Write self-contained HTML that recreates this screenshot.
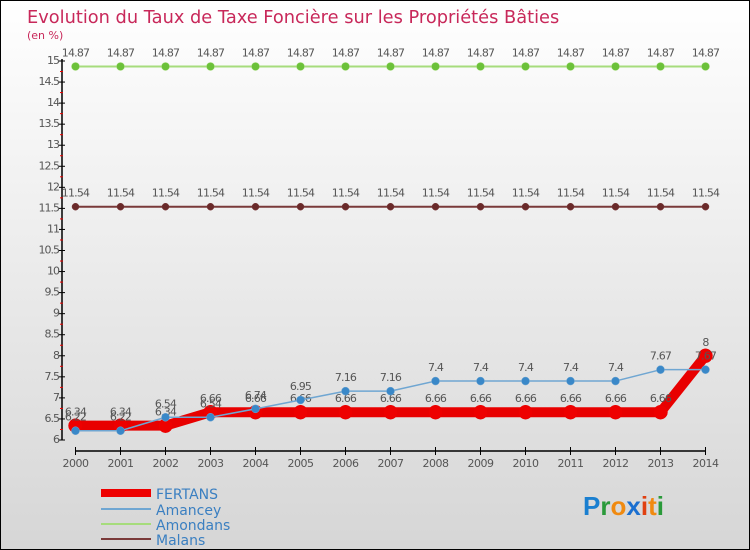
<!DOCTYPE html>
<html><head><meta charset="utf-8"><style>
body{margin:0}
#c{width:750px;height:550px;position:relative;box-sizing:border-box;border:1px solid #000;background:linear-gradient(#fff,#d6d6d6);font-family:"DejaVu Sans","Liberation Sans",sans-serif;overflow:hidden}
</style></head><body>
<div id="c">
<svg id="s" width="748" height="548" xmlns="http://www.w3.org/2000/svg">
<text x="26" y="22" font-size="17.8" fill="#c8285a">Evolution du Taux de Taxe Foncière sur les Propriétés Bâties</text>
<text x="26" y="38" font-size="11" fill="#c8285a">(en %)</text>
<g id="plot"></g>
<g>
<line x1="100" y1="492" x2="150" y2="492" stroke="#e00" stroke-width="8"/>
<text x="155" y="498" font-size="14" fill="#3a7fc1">FERTANS</text>
<line x1="100" y1="508" x2="150" y2="508" stroke="#6fa6d2" stroke-width="2"/>
<text x="155" y="514" font-size="14" fill="#3a7fc1">Amancey</text>
<line x1="100" y1="523" x2="150" y2="523" stroke="#a6dc7c" stroke-width="2"/>
<text x="155" y="529" font-size="14" fill="#3a7fc1">Amondans</text>
<line x1="100" y1="538" x2="150" y2="538" stroke="#7a3a3a" stroke-width="2"/>
<text x="155" y="544" font-size="14" fill="#3a7fc1">Malans</text>
</g>
<g font-size="26" font-family="Liberation Sans,sans-serif" font-weight="bold">
<text x="582" y="514"><tspan fill="#1a7fd0">P</tspan><tspan fill="#2a9a3a">r</tspan><tspan fill="#f08a10">o</tspan><tspan fill="#1a6fd0">x</tspan><tspan fill="#e04010">i</tspan><tspan fill="#f08a10">t</tspan><tspan fill="#2a9a3a">i</tspan></text>
</g>
</svg>
</div>
<script>
const years=["2000","2001","2002","2003","2004","2005","2006","2007","2008","2009","2010","2011","2012","2013","2014"];
const fertans=[6.34,6.34,6.34,6.66,6.66,6.66,6.66,6.66,6.66,6.66,6.66,6.66,6.66,6.66,8];
const amancey=[6.22,6.22,6.54,6.54,6.74,6.95,7.16,7.16,7.4,7.4,7.4,7.4,7.4,7.67,7.67];
const amondans=[14.87,14.87,14.87,14.87,14.87,14.87,14.87,14.87,14.87,14.87,14.87,14.87,14.87,14.87,14.87];
const malans=[11.54,11.54,11.54,11.54,11.54,11.54,11.54,11.54,11.54,11.54,11.54,11.54,11.54,11.54,11.54];
const yTicks=[6,6.5,7,7.5,8,8.5,9,9.5,10,10.5,11,11.5,12,12.5,13,13.5,14,14.5,15];
const NS="http://www.w3.org/2000/svg";
const g=document.getElementById('plot');
const X=i=>74.5+i*45, Y=v=>60+(15-v)*(379/9);
function mk(t,a,p){const e=document.createElementNS(NS,t);for(const k in a)e.setAttribute(k,a[k]);(p||g).appendChild(e);return e;}
let e=mk('line',{x1:61,y1:58,x2:61,y2:Y(6),stroke:'#000','stroke-width':1.5});


e=mk('line',{x1:X(0),y1:450,x2:X(14),y2:450,stroke:'#000','stroke-width':1.5});


yTicks.forEach(v=>{
 mk('line',{x1:58,y1:Y(v),x2:64,y2:Y(v),stroke:'#000'});
 if(v<15){mk('line',{x1:59,y1:Y(v+0.25),x2:62,y2:Y(v+0.25),stroke:'#e00'});}
 const t=mk('text',{x:58,y:Y(v)+3,'font-size':11,fill:'#555','text-anchor':'end','letter-spacing':'-1'});
 t.textContent=String(v);
 
 
});
years.forEach((y,i)=>{
 mk('line',{x1:X(i),y1:446,x2:X(i),y2:454,stroke:'#000'});
 const t=mk('text',{x:X(i),y:466,'font-size':11,fill:'#555','text-anchor':'middle','letter-spacing':'-0.5'});
 t.textContent=y;
 
 
});
function series(name,vals,color,w,r,dot){
 const pts=vals.map((v,i)=>X(i)+','+Y(v)).join(' ');
 const l=mk('polyline',{points:pts,fill:'none',stroke:color,'stroke-width':w,'stroke-linejoin':'round'});
 
 
 vals.forEach((v,i)=>{
  const c=mk('circle',{cx:X(i),cy:Y(v),r:r,fill:dot,stroke:color,'stroke-width':0.5});
  
  
  const t=mk('text',{x:X(i),y:Y(v)-10,'font-size':11,fill:'#555','text-anchor':'middle','letter-spacing':'-0.8'});
  t.textContent=String(v);
  
  
 });
}
series('amondans',amondans,'#a6dc7c',2,4,'#6cc13a');
series('malans',malans,'#7a3a3a',2,3.5,'#6a2a2a');
series('fertans',fertans,'#e80000',10,7,'#e00');
series('amancey',amancey,'#6fa6d2',1.5,4,'#3a88c8');
</script>
</body></html>
